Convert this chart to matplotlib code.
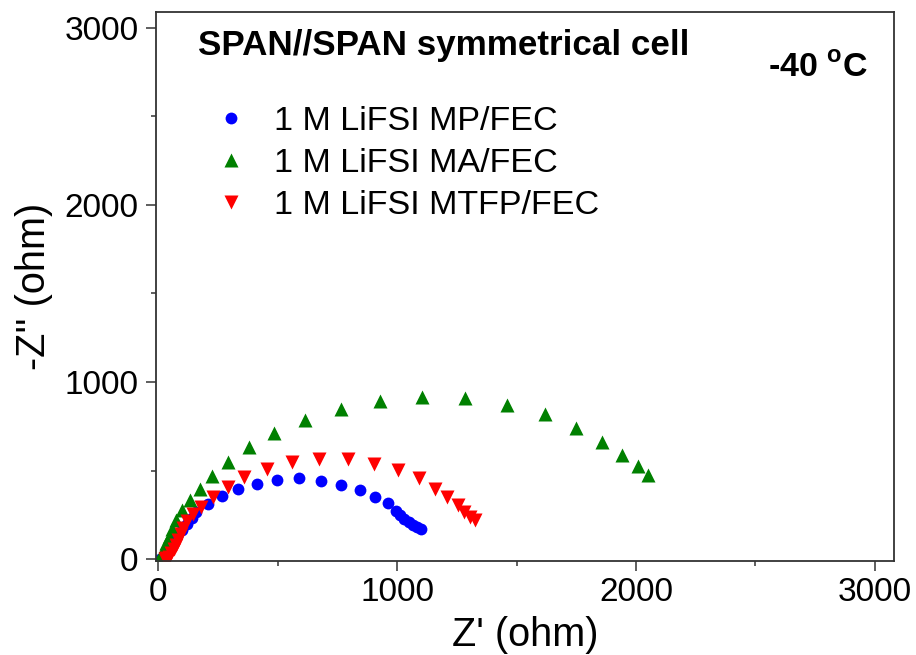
import matplotlib
matplotlib.use("Agg")
import matplotlib.pyplot as plt
from matplotlib.ticker import MultipleLocator

plt.rcParams['font.family'] = ['Liberation Sans', 'DejaVu Sans']
plt.rcParams['mathtext.fontset'] = 'custom'
plt.rcParams['mathtext.rm'] = 'Liberation Sans'
plt.rcParams['mathtext.bf'] = 'Liberation Sans:bold'

# MP/FEC (blue circles)
mp_x = [10, 20, 30, 40, 50, 65, 80, 100, 120, 140, 160, 208, 267, 333, 412, 497, 590, 681,
        767, 843, 906, 961, 996, 1014, 1031, 1049, 1065, 1083, 1101]
mp_y = [0, 10, 25, 45, 70, 100, 130, 165, 200, 235, 267, 311, 356, 399, 427, 446, 456, 442,
        420, 390, 352, 315, 273, 249, 228, 211, 196, 183, 173]

# MA/FEC (green triangles)
ma_x = [5, 10, 18, 25, 35, 45, 60, 76, 101, 132, 174, 225, 292, 379, 486, 615, 764, 928,
        1104, 1284, 1461, 1618, 1750, 1858, 1940, 2007, 2051]
ma_y = [0, 15, 35, 60, 90, 125, 170, 220, 277, 333, 399, 469, 550, 631, 710, 785, 846, 894,
        917, 908, 870, 817, 742, 663, 588, 525, 475]

# MTFP/FEC (red inverted triangles)
mt_x = [30, 35, 45, 55, 65, 75, 85, 95, 105, 120, 146, 180, 229, 292, 361, 454, 560, 674,
        794, 903, 1004, 1090, 1157, 1208, 1254, 1282, 1306, 1326]
mt_y = [0, 5, 15, 35, 55, 80, 110, 140, 175, 215, 258, 295, 352, 408, 465, 512, 550, 567,
        567, 540, 503, 456, 399, 352, 305, 267, 239, 220]

labels = ['1 M LiFSI MP/FEC', '1 M LiFSI MA/FEC', '1 M LiFSI MTFP/FEC']

fig = plt.figure(figsize=(9.16, 6.55), dpi=100)
ax = fig.add_axes([0.170, 0.1435, 0.806, 0.8385])

ax.plot(mp_x, mp_y, 'o', color='#0000ff', ms=8.5, mec='none', label=labels[0])
ax.plot(ma_x, ma_y, '^', color='#008000', ms=10.5, mec='none', label=labels[1])
ax.plot(mt_x, mt_y, 'v', color='#ff0000', ms=10.5, mec='none', label=labels[2])

ax.set_xlim(-10, 3080)
ax.set_ylim(-10, 3090)
ax.xaxis.set_major_locator(MultipleLocator(1000))
ax.xaxis.set_minor_locator(MultipleLocator(500))
ax.yaxis.set_major_locator(MultipleLocator(1000))
ax.yaxis.set_minor_locator(MultipleLocator(500))
ax.tick_params(which='both', direction='out', top=False, right=False, width=1.1,
               color='#333333', labelsize=24)
ax.tick_params(which='major', length=7.5)
ax.tick_params(which='minor', length=3.6)
ax.tick_params(axis='x', which='major', pad=4)
ax.tick_params(axis='y', which='major', pad=5)
for s in ax.spines.values():
    s.set_linewidth(1.3)
    s.set_color('#333333')

ax.set_xlabel("Z' (ohm)", fontsize=28.5, labelpad=6)
ax.set_ylabel("-Z'' (ohm)", fontsize=28.5, labelpad=8)

ax.text(0.057, 0.9217, 'SPAN//SPAN symmetrical cell', transform=ax.transAxes,
        fontsize=25.2, fontweight='bold', ha='left', va='baseline')
ax.text(0.965, 0.8816, r'-40 $^{\mathbf{o}}$C', transform=ax.transAxes,
        fontsize=24.5, fontweight='bold', ha='right', va='baseline')

ax.legend(loc='upper left', bbox_to_anchor=(0.0795, 0.829), frameon=False, fontsize=24.6,
          handletextpad=0.75, labelspacing=0.33, handlelength=1.0, borderpad=0.0,
          borderaxespad=0.0, markerscale=1.0)

fig.savefig('out.png', dpi=100)
